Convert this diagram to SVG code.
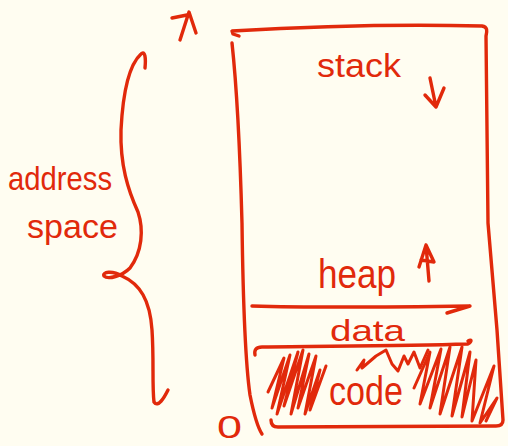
<svg xmlns="http://www.w3.org/2000/svg" width="508" height="446" viewBox="0 0 508 446">
  <style>
    .ink { fill: none; stroke: #e1290b; stroke-width: 3.4; stroke-linecap: round; stroke-linejoin: round; }
    .hatch { fill: none; stroke: #e1290b; stroke-width: 3; stroke-linecap: round; stroke-linejoin: round; }
    .lbl { fill: #e1290b; font-family: "Liberation Sans", "DejaVu Sans", sans-serif; }
  </style>
  <rect width="508" height="446" fill="#fffdf1"/>

  <!-- address-space brace and its label -->
  <g id="address-space">
    <path class="ink" d="M145,68 C146,58 145,50 141,54 C130,64 123,90 121,130 C120,165 128,190 138,212 C144,230 142,252 130,268 C122,276 108,280 104,276 C102,272 112,270 122,276 C140,284 150,300 152,330 C154,360 152,385 154,402 C158,408 164,398 168,390"/>
    <text class="lbl" x="8" y="190" font-size="34" textLength="104" lengthAdjust="spacingAndGlyphs">address</text>
    <text class="lbl" x="27" y="238" font-size="34" textLength="91" lengthAdjust="spacingAndGlyphs">space</text>
  </g>

  <!-- top and bottom address markers -->
  <g id="top-marker">
    <path class="ink" d="M180,40 L189,12 L196,33 M172,18 L187,15"/>
  </g>
  <g id="bottom-marker">
    <text class="lbl" x="217" y="438" font-size="32" textLength="25" lengthAdjust="spacingAndGlyphs">0</text>
  </g>

  <!-- memory box outline -->
  <g id="memory">
    <path class="ink" d="M239,36 L233,34 L232,31 C300,27 400,24 482,26 C488,27 487,31 486,36 L488,223 L497,330 L503,420 C503,425 500,426 496,426 L278,427 C274,427 271,425 271,420"/>
    <path class="ink" d="M232,43 C236,80 240,150 242,223 C243,300 245,360 250,395 C254,415 258,428 262,434"/>
  </g>

  <!-- stack segment -->
  <g id="stack">
    <text class="lbl" x="317" y="77" font-size="34" textLength="84" lengthAdjust="spacingAndGlyphs">stack</text>
    <path class="ink" d="M430,78 L436,107 M425,95 L436,107 L444,88"/>
  </g>

  <!-- heap segment -->
  <g id="heap">
    <text class="lbl" x="318" y="288" font-size="40" textLength="78" lengthAdjust="spacingAndGlyphs">heap</text>
    <path class="ink" d="M429,281 L426,245 M419,267 L426,245 L434,262 L421,260"/>
    <path class="ink" d="M252,306 C320,308 400,307 470,306 L447,313"/>
  </g>

  <!-- data segment -->
  <g id="data">
    <text class="lbl" x="330" y="341" font-size="30" textLength="75" lengthAdjust="spacingAndGlyphs">data</text>
    <path class="ink" d="M255,355 C254,350 256,347 262,347 C330,346 400,346 468,344 C472,341 472,339 468,341"/>
  </g>

  <!-- code segment with hatching -->
  <g id="code">
    <text class="lbl" x="329" y="405" font-size="40" textLength="74" lengthAdjust="spacingAndGlyphs">code</text>
    <path class="hatch" d="M357,370 L364,360 L362,368 L376,356 L386,350 L392,364 L398,371 L404,356 L408,364 L414,352 L420,368 L428,350"/>
    <path class="hatch" d="M268,392 L284,358 L272,408 L290,355 L277,414 L298,352 L284,406 L303,350 L291,414 L309,354 L298,408 L316,356 L305,414 L320,370 L310,410 L326,366"/>
    <path class="hatch" d="M414,388 L430,352 L420,404 L441,349 L430,408 L450,347 L440,414 L462,347 L452,416 L470,352 L462,417 L476,360 L472,421 L494,366 L480,423 L497,398 L486,421"/>
  </g>
</svg>
